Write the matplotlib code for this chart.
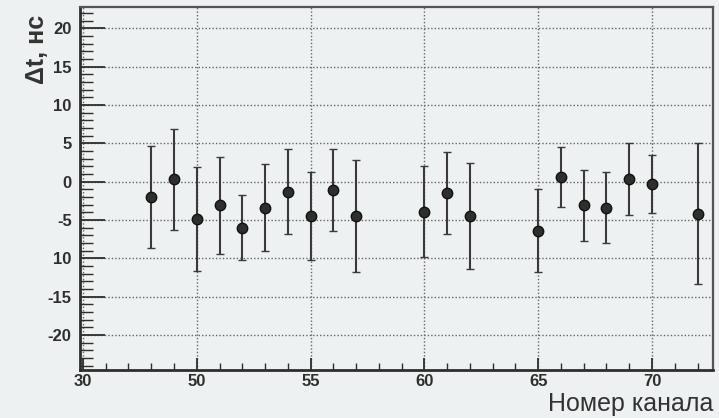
import matplotlib
matplotlib.use("Agg")
import matplotlib.pyplot as plt
from matplotlib.ticker import MultipleLocator, FixedLocator

# channel numbers, time offsets and errors (ns)
channels = [48, 49, 50, 51, 52, 53, 54, 55, 56, 57,
            60, 61, 62, 65, 66, 67, 68, 69, 70, 72]
dt = [-2.0, 0.3, -4.9, -3.1, -6.0, -3.4, -1.3, -4.5, -1.1, -4.5,
      -3.9, -1.5, -4.5, -6.4, 0.6, -3.1, -3.4, 0.3, -0.3, -4.2]
dt_err = [6.6, 6.6, 6.8, 6.3, 4.2, 5.7, 5.5, 5.7, 5.4, 7.3,
          5.9, 5.3, 6.9, 5.4, 3.9, 4.6, 4.6, 4.7, 3.8, 9.2]

# tick labels as printed on the scan
xticks = [45, 50, 55, 60, 65, 70]
xticklabels = ["30", "50", "55", "60", "65", "70"]
yticks = [-20, -15, -10, -5, 0, 5, 10, 15, 20]
yticklabels = ["-20", "-15", "10", "-5", "0", "5", "10", "15", "20"]

bg = "#eef1f1"
ink = "#2e2e2e"

plt.rcParams['font.family'] = ['Liberation Sans', 'DejaVu Sans']

fig = plt.figure(figsize=(7.19, 4.18), dpi=100, facecolor=bg)
ax = fig.add_axes([80 / 719, 1 - 370 / 418, 633 / 719, 363 / 418])
ax.set_facecolor(bg)

ax.errorbar(channels, dt, yerr=dt_err, fmt='o', color=ink, ecolor="#3a3a3a",
            markersize=7.5, markeredgecolor="#111111", markeredgewidth=1.0,
            elinewidth=1.5, capsize=3, capthick=1.3, zorder=3)

ax.set_xlim(44.87, 72.68)
ax.set_ylim(-24.56, 22.76)

ax.xaxis.set_major_locator(FixedLocator(xticks))
ax.set_xticklabels(xticklabels)
ax.xaxis.set_minor_locator(MultipleLocator(1))
ax.yaxis.set_major_locator(FixedLocator(yticks))
ax.set_yticklabels(yticklabels)
ax.yaxis.set_minor_locator(MultipleLocator(1))

ax.tick_params(axis='x', which='major', direction='in', length=8.6, width=1.3,
               color=ink, labelsize=12, labelcolor=ink, pad=3, top=False)
ax.tick_params(axis='x', which='minor', direction='in', length=5, width=1.0,
               color=ink, top=False)
ax.tick_params(axis='y', which='major', direction='in', length=18, width=1.3,
               color=ink, labelsize=12, labelcolor=ink, pad=6, right=False)
ax.tick_params(axis='y', which='minor', direction='in', length=9, width=1.0,
               color=ink, right=False)
for lab in ax.get_xticklabels() + ax.get_yticklabels():
    lab.set_fontweight('bold')

ax.grid(True, which='major', linestyle=(0, (1.0, 1.5)), color="#666666",
        linewidth=1.0)
ax.set_axisbelow(True)

for side in ['left', 'bottom']:
    ax.spines[side].set_linewidth(2.0)
    ax.spines[side].set_color(ink)
for side in ['top', 'right']:
    ax.spines[side].set_linewidth(1.6)
    ax.spines[side].set_color("#555555")

fig.text(713 / 719, 1 - 411 / 418, "Номер канала", ha='right', va='baseline',
         fontsize=18, color="#333333")
fig.text(37 / 719, 1 - 15 / 418, "Δt, нс", ha='center', va='top',
         rotation=90, fontsize=18, fontweight='bold', color="#333333")

fig.savefig("out.png", dpi=100, facecolor=bg)
